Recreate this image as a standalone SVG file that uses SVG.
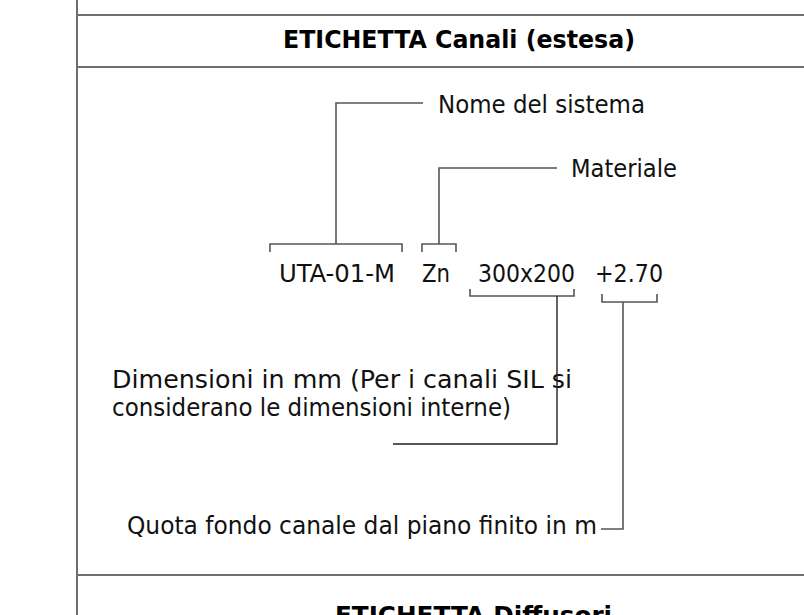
<svg xmlns="http://www.w3.org/2000/svg" width="804" height="615" viewBox="0 0 804 615">
<style>
.frame{stroke:#6e6e6e;stroke-width:2;fill:none}
.ld{stroke:#555;stroke-width:1.6;fill:none}
.ldk{stroke:#222;stroke-width:1.4;fill:none}
.t{font-family:"DejaVu Sans Condensed","DejaVu Sans",sans-serif;font-stretch:condensed;font-size:24px;fill:#111}
.h{font-family:"DejaVu Sans Condensed","DejaVu Sans",sans-serif;font-stretch:condensed;font-size:24px;font-weight:bold;fill:#000}
</style>
<rect width="804" height="615" fill="#fff"/>
<g id="frame">
<line class="frame" x1="77" y1="0" x2="77" y2="615"/>
<line class="frame" x1="77" y1="15" x2="804" y2="15"/>
<line class="frame" x1="77" y1="67" x2="804" y2="67"/>
<line class="frame" x1="77" y1="575" x2="804" y2="575"/>
</g>
<g id="title"><text class="h" x="283" y="48" textLength="352" lengthAdjust="spacingAndGlyphs">ETICHETTA Canali (estesa)</text></g>
<g id="title2"><text class="h" x="335" y="624" textLength="277" lengthAdjust="spacingAndGlyphs">ETICHETTA Diffusori</text></g>
<g id="nome"><text class="t" x="438" y="113" textLength="207" lengthAdjust="spacingAndGlyphs">Nome del sistema</text></g>
<g id="materiale"><text class="t" x="571" y="177" textLength="106" lengthAdjust="spacingAndGlyphs">Materiale</text></g>
<g id="uta"><text class="t" x="279" y="282" textLength="116" lengthAdjust="spacingAndGlyphs">UTA-01-M</text></g>
<g id="zn"><text class="t" x="422" y="282" textLength="28" lengthAdjust="spacingAndGlyphs">Zn</text></g>
<g id="dim"><text class="t" x="478" y="282" textLength="97" lengthAdjust="spacingAndGlyphs">300x200</text></g>
<g id="quota"><text class="t" x="595" y="282" textLength="68" lengthAdjust="spacingAndGlyphs">+2.70</text></g>
<g id="dimensioni">
<text class="t" x="112" y="388" textLength="460" lengthAdjust="spacingAndGlyphs">Dimensioni in mm (Per i canali SIL si</text>
<text class="t" x="112" y="416" textLength="399" lengthAdjust="spacingAndGlyphs">considerano le dimensioni interne)</text>
</g>
<g id="quotafondo"><text class="t" x="127" y="534" textLength="470" lengthAdjust="spacingAndGlyphs">Quota fondo canale dal piano finito in m</text></g>
<g id="connectors">
<polyline class="ld" points="423,103 336,103 336,244"/>
<polyline class="ld" points="270,252 270,244 402,244 402,252"/>
<polyline class="ld" points="557,168 439,168 439,244"/>
<polyline class="ld" points="422,252 422,244 456,244 456,252"/>
<polyline class="ld" points="470,289 470,296 574,296 574,289"/>
<polyline class="ldk" points="557,296 557,444 393,444"/>
<polyline class="ld" points="602,294 602,302 657,302 657,294"/>
<polyline class="ld" points="623,302 623,529 601,529"/>
</g>
</svg>
